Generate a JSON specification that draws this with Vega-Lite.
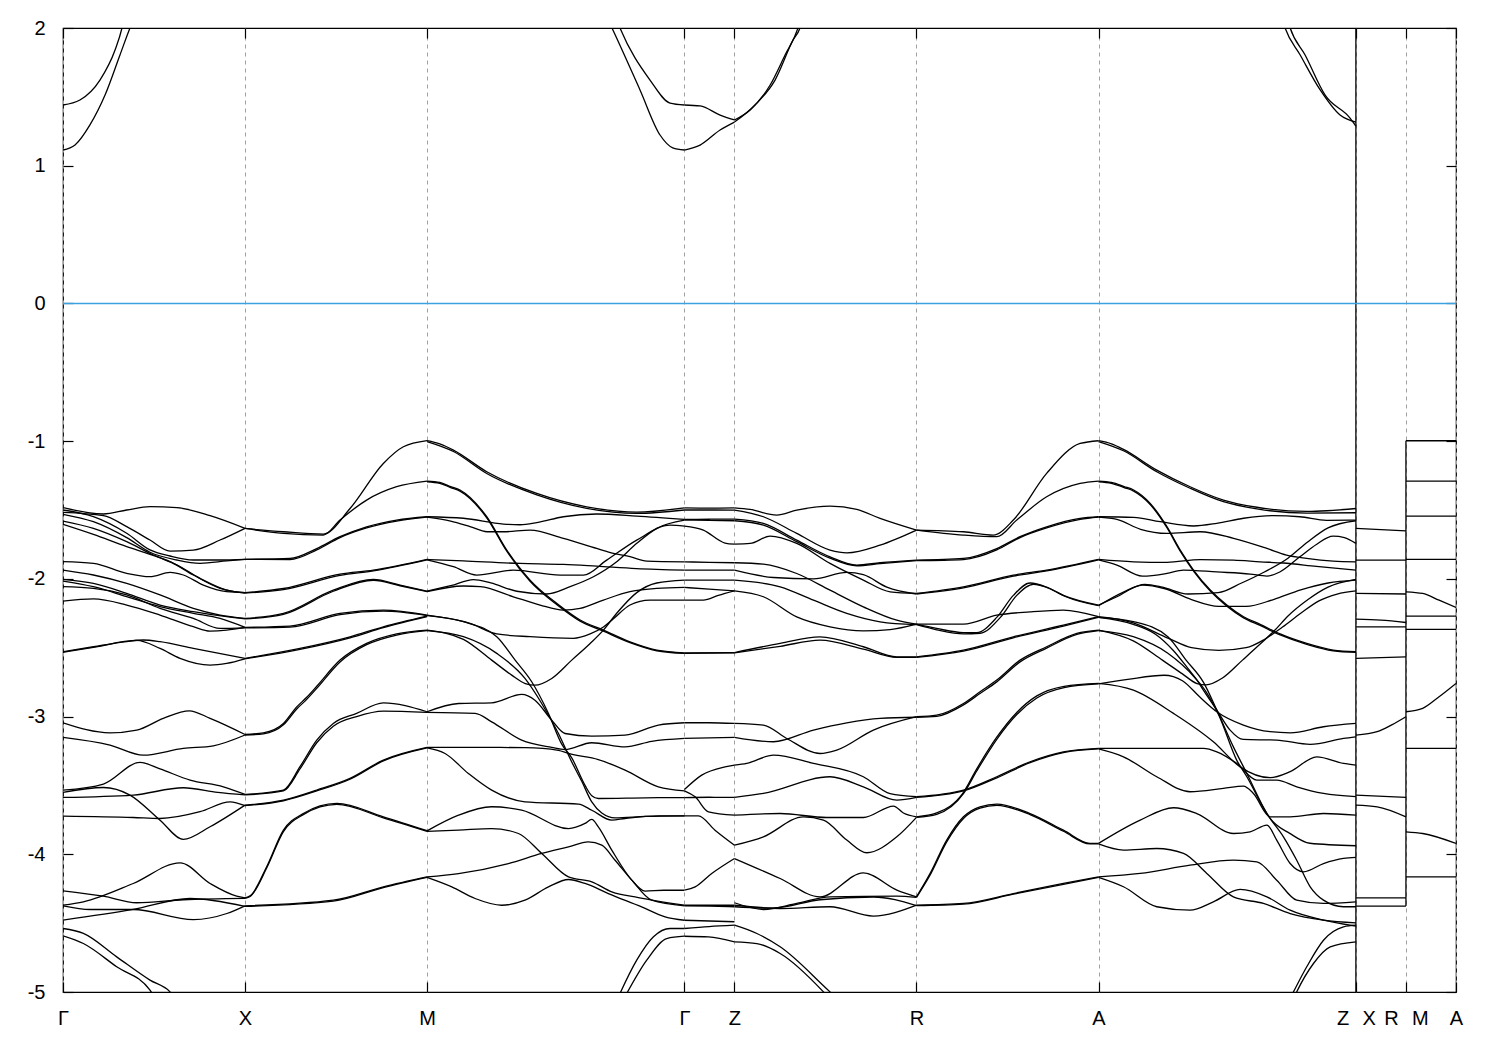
{
"$schema":"https://vega.github.io/schema/vega-lite/v6.json",
"width":1393,"height":964,
"autosize":{"type":"none"},
"padding":{"left":63,"top":28,"right":44,"bottom":58},
"background":"white",
"config":{"view":{"stroke":"black","strokeWidth":1.2}},
"resolve":{"axis":{"x":"independent","y":"independent"}},
"datasets":{
"jumps":[{"k":7.103,"lo":-5,"hi":2},{"k":7.378,"lo":-4.376,"hi":-0.997}],
"bands":[
{"s":"g1","k":0,"e":-1.483},{"s":"g1","k":0.222,"e":-1.529},{"s":"g1","k":0.35,"e":-1.5},{"s":"g1","k":0.478,"e":-1.476},{"s":"g1","k":0.625,"e":-1.483},{"s":"g1","k":0.808,"e":-1.541},{"s":"g1","k":1,"e":-1.633},
{"s":"g2","k":0,"e":-1.517},{"s":"g2","k":0.222,"e":-1.541},{"s":"g2","k":0.35,"e":-1.621},{"s":"g2","k":0.478,"e":-1.718},{"s":"g2","k":0.588,"e":-1.798},{"s":"g2","k":0.716,"e":-1.791},{"s":"g2","k":0.863,"e":-1.718},{"s":"g2","k":1,"e":-1.633},
{"s":"g3","k":0,"e":-1.5},{"s":"g3","k":0.167,"e":-1.548},{"s":"g3","k":0.35,"e":-1.669},{"s":"g3","k":0.478,"e":-1.79},{"s":"g3","k":0.588,"e":-1.834},{"s":"g3","k":0.716,"e":-1.863},{"s":"g3","k":0.863,"e":-1.863},{"s":"g3","k":1,"e":-1.858},
{"s":"g4","k":0,"e":-1.531},{"s":"g4","k":0.167,"e":-1.585},{"s":"g4","k":0.35,"e":-1.701},{"s":"g4","k":0.478,"e":-1.807},{"s":"g4","k":0.625,"e":-1.863},{"s":"g4","k":0.753,"e":-1.887},{"s":"g4","k":0.899,"e":-1.87},{"s":"g4","k":1,"e":-1.858},
{"s":"g5","k":0,"e":-1.58},{"s":"g5","k":0.167,"e":-1.633},{"s":"g5","k":0.35,"e":-1.73},{"s":"g5","k":0.496,"e":-1.827},{"s":"g5","k":0.625,"e":-1.899},{"s":"g5","k":0.753,"e":-1.996},{"s":"g5","k":0.899,"e":-2.081},{"s":"g5","k":1,"e":-2.1},
{"s":"g6","k":0,"e":-1.604},{"s":"g6","k":0.167,"e":-1.677},{"s":"g6","k":0.35,"e":-1.766},{"s":"g6","k":0.478,"e":-1.822},{"s":"g6","k":0.588,"e":-1.875},{"s":"g6","k":0.716,"e":-1.972},{"s":"g6","k":0.863,"e":-2.069},{"s":"g6","k":1,"e":-2.104},
{"s":"g7","k":0,"e":-1.875},{"s":"g7","k":0.167,"e":-1.887},{"s":"g7","k":0.35,"e":-1.96},{"s":"g7","k":0.478,"e":-1.984},{"s":"g7","k":0.588,"e":-1.953},{"s":"g7","k":0.661,"e":-1.972},{"s":"g7","k":0.771,"e":-2.045},{"s":"g7","k":0.899,"e":-2.093},{"s":"g7","k":1,"e":-2.1},
{"s":"g8","k":0,"e":-1.936},{"s":"g8","k":0.167,"e":-1.972},{"s":"g8","k":0.35,"e":-2.033},{"s":"g8","k":0.533,"e":-2.117},{"s":"g8","k":0.716,"e":-2.214},{"s":"g8","k":0.863,"e":-2.263},{"s":"g8","k":1,"e":-2.287},
{"s":"g9","k":0,"e":-2.004},{"s":"g9","k":0.167,"e":-2.033},{"s":"g9","k":0.35,"e":-2.105},{"s":"g9","k":0.533,"e":-2.19},{"s":"g9","k":0.716,"e":-2.238},{"s":"g9","k":0.899,"e":-2.275},{"s":"g9","k":1,"e":-2.291},
{"s":"g10","k":0,"e":-2.016},{"s":"g10","k":0.167,"e":-2.057},{"s":"g10","k":0.35,"e":-2.129},{"s":"g10","k":0.533,"e":-2.202},{"s":"g10","k":0.716,"e":-2.25},{"s":"g10","k":0.863,"e":-2.287},{"s":"g10","k":1,"e":-2.352},
{"s":"g11","k":0,"e":-2.057},{"s":"g11","k":0.167,"e":-2.069},{"s":"g11","k":0.35,"e":-2.117},{"s":"g11","k":0.533,"e":-2.214},{"s":"g11","k":0.716,"e":-2.287},{"s":"g11","k":0.863,"e":-2.36},{"s":"g11","k":1,"e":-2.356},
{"s":"g12","k":0,"e":-2.161},{"s":"g12","k":0.167,"e":-2.146},{"s":"g12","k":0.35,"e":-2.19},{"s":"g12","k":0.533,"e":-2.263},{"s":"g12","k":0.716,"e":-2.347},{"s":"g12","k":0.808,"e":-2.379},{"s":"g12","k":0.899,"e":-2.372},{"s":"g12","k":1,"e":-2.352},
{"s":"g13","k":0,"e":-2.529},{"s":"g13","k":0.167,"e":-2.493},{"s":"g13","k":0.35,"e":-2.456},{"s":"g13","k":0.441,"e":-2.444},{"s":"g13","k":0.533,"e":-2.456},{"s":"g13","k":0.716,"e":-2.505},{"s":"g13","k":1,"e":-2.577},
{"s":"g14","k":0,"e":-2.533},{"s":"g14","k":0.167,"e":-2.497},{"s":"g14","k":0.405,"e":-2.447},{"s":"g14","k":0.533,"e":-2.505},{"s":"g14","k":0.643,"e":-2.577},{"s":"g14","k":0.808,"e":-2.626},{"s":"g14","k":0.899,"e":-2.614},{"s":"g14","k":1,"e":-2.581},
{"s":"h1","k":0,"e":-3.045},{"s":"h1","k":0.258,"e":-3.118},{"s":"h1","k":0.405,"e":-3.098},{"s":"h1","k":0.551,"e":-3.013},{"s":"h1","k":0.694,"e":-2.958},{"s":"h1","k":0.808,"e":-3.013},{"s":"h1","k":1,"e":-3.13},
{"s":"h2","k":0,"e":-3.151},{"s":"h2","k":0.258,"e":-3.207},{"s":"h2","k":0.441,"e":-3.28},{"s":"h2","k":0.661,"e":-3.231},{"s":"h2","k":0.826,"e":-3.212},{"s":"h2","k":1,"e":-3.134},
{"s":"h3","k":0,"e":-3.534},{"s":"h3","k":0.222,"e":-3.49},{"s":"h3","k":0.423,"e":-3.333},{"s":"h3","k":0.533,"e":-3.38},{"s":"h3","k":0.698,"e":-3.461},{"s":"h3","k":0.881,"e":-3.51},{"s":"h3","k":1,"e":-3.565},
{"s":"h4","k":0,"e":-3.551},{"s":"h4","k":0.222,"e":-3.515},{"s":"h4","k":0.368,"e":-3.57},{"s":"h4","k":0.533,"e":-3.752},{"s":"h4","k":0.661,"e":-3.892},{"s":"h4","k":0.808,"e":-3.8},{"s":"h4","k":1,"e":-3.643},
{"s":"h5","k":0,"e":-3.587},{"s":"h5","k":0.386,"e":-3.57},{"s":"h5","k":0.661,"e":-3.517},{"s":"h5","k":0.85,"e":-3.55},{"s":"h5","k":1,"e":-3.569},
{"s":"h6","k":0,"e":-3.723},{"s":"h6","k":0.386,"e":-3.733},{"s":"h6","k":0.533,"e":-3.74},{"s":"h6","k":0.753,"e":-3.691},{"s":"h6","k":0.918,"e":-3.619},{"s":"h6","k":1,"e":-3.647},
{"s":"h7","k":0,"e":-4.369},{"s":"h7","k":0.112,"e":-4.345},{"s":"h7","k":0.386,"e":-4.212},{"s":"h7","k":0.643,"e":-4.062},{"s":"h7","k":0.808,"e":-4.212},{"s":"h7","k":0.954,"e":-4.304},{"s":"h7","k":1,"e":-4.316},
{"s":"h8","k":0,"e":-4.265},{"s":"h8","k":0.222,"e":-4.304},{"s":"h8","k":0.405,"e":-4.352},{"s":"h8","k":0.661,"e":-4.33},{"s":"h8","k":1,"e":-4.32},
{"s":"h9","k":0,"e":-4.374},{"s":"h9","k":0.15,"e":-4.401},{"s":"h9","k":0.386,"e":-4.401},{"s":"h9","k":0.716,"e":-4.474},{"s":"h9","k":0.9,"e":-4.43},{"s":"h9","k":1,"e":-4.374},
{"s":"h10","k":0,"e":-4.478},{"s":"h10","k":0.386,"e":-4.4},{"s":"h10","k":0.698,"e":-4.321},{"s":"h10","k":1,"e":-4.378},
{"s":"h11","k":0,"e":-4.539},{"s":"h11","k":0.112,"e":-4.575},{"s":"h11","k":0.295,"e":-4.745},{"s":"h11","k":0.478,"e":-4.914},{"s":"h11","k":0.588,"e":-4.999},{"s":"h11","k":0.62,"e":-5.05},
{"s":"h12","k":0,"e":-4.592},{"s":"h12","k":0.112,"e":-4.648},{"s":"h12","k":0.295,"e":-4.817},{"s":"h12","k":0.478,"e":-4.987},{"s":"h12","k":0.5,"e":-5.03},
{"s":"m1","k":1,"e":-1.634},{"s":"m1","k":1.211,"e":-1.658},{"s":"m1","k":1.43,"e":-1.675},{"s":"m1","k":1.577,"e":-1.489},{"s":"m1","k":1.76,"e":-1.162},{"s":"m1","k":1.87,"e":-1.041},{"s":"m1","k":2,"e":-0.997},
{"s":"m2","k":1,"e":-1.634},{"s":"m2","k":1.211,"e":-1.67},{"s":"m2","k":1.43,"e":-1.682},{"s":"m2","k":1.522,"e":-1.573},{"s":"m2","k":1.668,"e":-1.428},{"s":"m2","k":1.833,"e":-1.331},{"s":"m2","k":2,"e":-1.29},
{"s":"m3","k":1,"e":-1.858},{"s":"m3","k":1.247,"e":-1.852},{"s":"m3","k":1.394,"e":-1.78},{"s":"m3","k":1.522,"e":-1.694},{"s":"m3","k":1.668,"e":-1.622},{"s":"m3","k":1.833,"e":-1.573},{"s":"m3","k":2,"e":-1.549},
{"s":"m4","k":1,"e":-1.858},{"s":"m4","k":1.247,"e":-1.86},{"s":"m4","k":1.394,"e":-1.79},{"s":"m4","k":1.522,"e":-1.7},{"s":"m4","k":1.668,"e":-1.63},{"s":"m4","k":1.833,"e":-1.58},{"s":"m4","k":2,"e":-1.552},
{"s":"m5","k":1,"e":-2.1},{"s":"m5","k":1.211,"e":-2.07},{"s":"m5","k":1.522,"e":-1.966},{"s":"m5","k":1.705,"e":-1.937},{"s":"m5","k":2,"e":-1.859},
{"s":"m6","k":1,"e":-2.104},{"s":"m6","k":1.211,"e":-2.078},{"s":"m6","k":1.522,"e":-1.975},{"s":"m6","k":1.705,"e":-1.942},{"s":"m6","k":2,"e":-1.862},
{"s":"m7","k":1,"e":-2.287},{"s":"m7","k":1.211,"e":-2.251},{"s":"m7","k":1.485,"e":-2.082},{"s":"m7","k":1.705,"e":-2.004},{"s":"m7","k":1.852,"e":-2.045},{"s":"m7","k":2,"e":-2.089},
{"s":"m8","k":1,"e":-2.291},{"s":"m8","k":1.211,"e":-2.258},{"s":"m8","k":1.485,"e":-2.09},{"s":"m8","k":1.705,"e":-2.01},{"s":"m8","k":1.852,"e":-2.05},{"s":"m8","k":2,"e":-2.093},
{"s":"m9","k":1,"e":-2.352},{"s":"m9","k":1.247,"e":-2.343},{"s":"m9","k":1.522,"e":-2.251},{"s":"m9","k":1.76,"e":-2.227},{"s":"m9","k":2,"e":-2.263},
{"s":"m10","k":1,"e":-2.356},{"s":"m10","k":1.247,"e":-2.35},{"s":"m10","k":1.522,"e":-2.26},{"s":"m10","k":1.76,"e":-2.235},{"s":"m10","k":2,"e":-2.267},
{"s":"m11","k":1,"e":-2.577},{"s":"m11","k":1.302,"e":-2.505},{"s":"m11","k":1.577,"e":-2.421},{"s":"m11","k":1.76,"e":-2.348},{"s":"m11","k":2,"e":-2.271},
{"s":"m12","k":1,"e":-2.581},{"s":"m12","k":1.302,"e":-2.512},{"s":"m12","k":1.577,"e":-2.428},{"s":"m12","k":1.76,"e":-2.355},{"s":"m12","k":2,"e":-2.275},
{"s":"m13","k":1,"e":-3.13},{"s":"m13","k":1.101,"e":-3.118},{"s":"m13","k":1.211,"e":-3.05},{"s":"m13","k":1.284,"e":-2.93},{"s":"m13","k":1.339,"e":-2.86},{"s":"m13","k":1.394,"e":-2.78},{"s":"m13","k":1.522,"e":-2.59},{"s":"m13","k":1.668,"e":-2.469},{"s":"m13","k":1.833,"e":-2.4},{"s":"m13","k":2,"e":-2.372},
{"s":"m14","k":1,"e":-3.134},{"s":"m14","k":1.101,"e":-3.125},{"s":"m14","k":1.211,"e":-3.06},{"s":"m14","k":1.284,"e":-2.945},{"s":"m14","k":1.339,"e":-2.875},{"s":"m14","k":1.394,"e":-2.795},{"s":"m14","k":1.522,"e":-2.603},{"s":"m14","k":1.668,"e":-2.478},{"s":"m14","k":1.833,"e":-2.408},{"s":"m14","k":2,"e":-2.376},
{"s":"m15","k":1,"e":-3.565},{"s":"m15","k":1.211,"e":-3.534},{"s":"m15","k":1.302,"e":-3.364},{"s":"m15","k":1.394,"e":-3.171},{"s":"m15","k":1.485,"e":-3.05},{"s":"m15","k":1.613,"e":-2.977},{"s":"m15","k":1.76,"e":-2.9},{"s":"m15","k":2,"e":-2.965},
{"s":"m16","k":1,"e":-3.569},{"s":"m16","k":1.211,"e":-3.54},{"s":"m16","k":1.302,"e":-3.38},{"s":"m16","k":1.394,"e":-3.19},{"s":"m16","k":1.485,"e":-3.07},{"s":"m16","k":1.613,"e":-3.0},{"s":"m16","k":1.76,"e":-2.96},{"s":"m16","k":2,"e":-2.97},
{"s":"m17","k":1,"e":-3.643},{"s":"m17","k":1.211,"e":-3.607},{"s":"m17","k":1.394,"e":-3.534},{"s":"m17","k":1.577,"e":-3.449},{"s":"m17","k":1.76,"e":-3.316},{"s":"m17","k":2,"e":-3.224},
{"s":"m18","k":1,"e":-3.647},{"s":"m18","k":1.211,"e":-3.612},{"s":"m18","k":1.394,"e":-3.54},{"s":"m18","k":1.577,"e":-3.455},{"s":"m18","k":1.76,"e":-3.322},{"s":"m18","k":2,"e":-3.228},
{"s":"m19","k":1,"e":-4.316},{"s":"m19","k":1.03,"e":-4.3},{"s":"m19","k":1.119,"e":-4.09},{"s":"m19","k":1.211,"e":-3.825},{"s":"m19","k":1.32,"e":-3.704},{"s":"m19","k":1.504,"e":-3.631},{"s":"m19","k":1.76,"e":-3.728},{"s":"m19","k":2,"e":-3.829},
{"s":"m20","k":1,"e":-4.32},{"s":"m20","k":1.03,"e":-4.305},{"s":"m20","k":1.119,"e":-4.1},{"s":"m20","k":1.211,"e":-3.835},{"s":"m20","k":1.32,"e":-3.712},{"s":"m20","k":1.504,"e":-3.638},{"s":"m20","k":1.76,"e":-3.735},{"s":"m20","k":2,"e":-3.833},
{"s":"m21","k":1,"e":-4.374},{"s":"m21","k":1.485,"e":-4.333},{"s":"m21","k":1.76,"e":-4.236},{"s":"m21","k":2,"e":-4.164},
{"s":"m22","k":1,"e":-4.378},{"s":"m22","k":1.485,"e":-4.34},{"s":"m22","k":1.76,"e":-4.242},{"s":"m22","k":2,"e":-4.168},
{"s":"n1","k":2,"e":-0.997},{"s":"n1","k":2.07,"e":-1.02},{"s":"n1","k":2.145,"e":-1.065},{"s":"n1","k":2.328,"e":-1.222},{"s":"n1","k":2.603,"e":-1.38},{"s":"n1","k":2.877,"e":-1.477},{"s":"n1","k":3.152,"e":-1.515},{"s":"n1","k":3.414,"e":-1.484},
{"s":"n2","k":2,"e":-1.003},{"s":"n2","k":2.145,"e":-1.075},{"s":"n2","k":2.328,"e":-1.235},{"s":"n2","k":2.603,"e":-1.39},{"s":"n2","k":2.877,"e":-1.488},{"s":"n2","k":3.152,"e":-1.525},{"s":"n2","k":3.414,"e":-1.5},
{"s":"n3","k":2,"e":-1.29},{"s":"n3","k":2.07,"e":-1.3},{"s":"n3","k":2.13,"e":-1.33},{"s":"n3","k":2.181,"e":-1.355},{"s":"n3","k":2.328,"e":-1.549},{"s":"n3","k":2.438,"e":-1.791},{"s":"n3","k":2.566,"e":-2.009},{"s":"n3","k":2.712,"e":-2.178},{"s":"n3","k":2.841,"e":-2.299},{"s":"n3","k":2.969,"e":-2.372},{"s":"n3","k":3.115,"e":-2.457},{"s":"n3","k":3.262,"e":-2.517},{"s":"n3","k":3.414,"e":-2.537},
{"s":"n4","k":2,"e":-1.295},{"s":"n4","k":2.07,"e":-1.306},{"s":"n4","k":2.13,"e":-1.337},{"s":"n4","k":2.181,"e":-1.363},{"s":"n4","k":2.328,"e":-1.557},{"s":"n4","k":2.438,"e":-1.799},{"s":"n4","k":2.566,"e":-2.017},{"s":"n4","k":2.712,"e":-2.186},{"s":"n4","k":2.841,"e":-2.307},{"s":"n4","k":2.969,"e":-2.38},{"s":"n4","k":3.115,"e":-2.463},{"s":"n4","k":3.262,"e":-2.522},{"s":"n4","k":3.414,"e":-2.541},
{"s":"n5","k":2,"e":-1.549},{"s":"n5","k":2.2,"e":-1.56},{"s":"n5","k":2.42,"e":-1.602},{"s":"n5","k":2.511,"e":-1.607},{"s":"n5","k":2.603,"e":-1.592},{"s":"n5","k":2.749,"e":-1.549},{"s":"n5","k":2.932,"e":-1.529},{"s":"n5","k":3.152,"e":-1.544},{"s":"n5","k":3.414,"e":-1.568},
{"s":"n6","k":2,"e":-1.552},{"s":"n6","k":2.13,"e":-1.58},{"s":"n6","k":2.236,"e":-1.62},{"s":"n6","k":2.33,"e":-1.658},{"s":"n6","k":2.42,"e":-1.658},{"s":"n6","k":2.566,"e":-1.646},{"s":"n6","k":2.749,"e":-1.706},{"s":"n6","k":2.932,"e":-1.779},{"s":"n6","k":3.024,"e":-1.815},{"s":"n6","k":3.115,"e":-1.839},{"s":"n6","k":3.207,"e":-1.871},{"s":"n6","k":3.414,"e":-1.876},
{"s":"n7","k":2,"e":-1.859},{"s":"n7","k":2.2,"e":-1.87},{"s":"n7","k":2.511,"e":-1.888},{"s":"n7","k":2.75,"e":-1.895},{"s":"n7","k":2.932,"e":-1.908},{"s":"n7","k":3.15,"e":-1.925},{"s":"n7","k":3.414,"e":-1.936},
{"s":"n8","k":2,"e":-1.862},{"s":"n8","k":2.145,"e":-1.912},{"s":"n8","k":2.273,"e":-1.973},{"s":"n8","k":2.474,"e":-1.937},{"s":"n8","k":2.731,"e":-1.973},{"s":"n8","k":2.859,"e":-1.973},{"s":"n8","k":2.987,"e":-1.864},{"s":"n8","k":3.152,"e":-1.719},{"s":"n8","k":3.335,"e":-1.61},{"s":"n8","k":3.414,"e":-1.617},
{"s":"n9","k":2,"e":-2.089},{"s":"n9","k":2.13,"e":-2.05},{"s":"n9","k":2.255,"e":-2.005},{"s":"n9","k":2.35,"e":-2.03},{"s":"n9","k":2.493,"e":-2.09},{"s":"n9","k":2.658,"e":-2.11},{"s":"n9","k":2.786,"e":-2.057},{"s":"n9","k":2.914,"e":-1.985},{"s":"n9","k":3.042,"e":-1.876},{"s":"n9","k":3.152,"e":-1.742},{"s":"n9","k":3.262,"e":-1.633},{"s":"n9","k":3.414,"e":-1.573},
{"s":"n10","k":2,"e":-2.093},{"s":"n10","k":2.2,"e":-2.052},{"s":"n10","k":2.292,"e":-2.057},{"s":"n10","k":2.474,"e":-2.13},{"s":"n10","k":2.621,"e":-2.19},{"s":"n10","k":2.749,"e":-2.227},{"s":"n10","k":2.841,"e":-2.215},{"s":"n10","k":2.969,"e":-2.154},{"s":"n10","k":3.115,"e":-2.093},{"s":"n10","k":3.262,"e":-2.069},{"s":"n10","k":3.414,"e":-2.062},
{"s":"n11","k":2,"e":-2.263},{"s":"n11","k":2.236,"e":-2.323},{"s":"n11","k":2.383,"e":-2.4},{"s":"n11","k":2.566,"e":-2.42},{"s":"n11","k":2.804,"e":-2.432},{"s":"n11","k":2.896,"e":-2.4},{"s":"n11","k":2.969,"e":-2.35},{"s":"n11","k":3.024,"e":-2.29},{"s":"n11","k":3.115,"e":-2.19},{"s":"n11","k":3.225,"e":-2.154},{"s":"n11","k":3.414,"e":-2.154},
{"s":"n12","k":2,"e":-2.372},{"s":"n12","k":2.2,"e":-2.44},{"s":"n12","k":2.355,"e":-2.59},{"s":"n12","k":2.465,"e":-2.699},{"s":"n12","k":2.54,"e":-2.76},{"s":"n12","k":2.593,"e":-2.772},{"s":"n12","k":2.685,"e":-2.723},{"s":"n12","k":2.795,"e":-2.59},{"s":"n12","k":2.896,"e":-2.469},{"s":"n12","k":2.969,"e":-2.372},{"s":"n12","k":3.042,"e":-2.25},{"s":"n12","k":3.152,"e":-2.1},{"s":"n12","k":3.262,"e":-2.03},{"s":"n12","k":3.414,"e":-2.009},
{"s":"n13","k":2,"e":-2.267},{"s":"n13","k":2.2,"e":-2.311},{"s":"n13","k":2.383,"e":-2.42},{"s":"n13","k":2.484,"e":-2.59},{"s":"n13","k":2.575,"e":-2.747},{"s":"n13","k":2.667,"e":-2.977},{"s":"n13","k":2.74,"e":-3.2},{"s":"n13","k":2.795,"e":-3.3},{"s":"n13","k":2.868,"e":-3.5},{"s":"n13","k":2.905,"e":-3.575},{"s":"n13","k":2.941,"e":-3.595},{"s":"n13","k":3.2,"e":-3.59},{"s":"n13","k":3.414,"e":-3.588},
{"s":"n14","k":2,"e":-2.376},{"s":"n14","k":2.2,"e":-2.42},{"s":"n14","k":2.383,"e":-2.541},{"s":"n14","k":2.538,"e":-2.723},{"s":"n14","k":2.63,"e":-2.905},{"s":"n14","k":2.722,"e":-3.123},{"s":"n14","k":2.795,"e":-3.33},{"s":"n14","k":2.85,"e":-3.47},{"s":"n14","k":2.905,"e":-3.62},{"s":"n14","k":2.96,"e":-3.7},{"s":"n14","k":3.033,"e":-3.735},{"s":"n14","k":3.2,"e":-3.725},{"s":"n14","k":3.414,"e":-3.721},
{"s":"n15","k":2,"e":-2.965},{"s":"n15","k":2.173,"e":-2.905},{"s":"n15","k":2.355,"e":-2.9},{"s":"n15","k":2.52,"e":-2.839},{"s":"n15","k":2.593,"e":-2.881},{"s":"n15","k":2.685,"e":-3.026},{"s":"n15","k":2.758,"e":-3.123},{"s":"n15","k":2.905,"e":-3.142},{"s":"n15","k":3.088,"e":-3.135},{"s":"n15","k":3.271,"e":-3.062},{"s":"n15","k":3.414,"e":-3.045},
{"s":"n16","k":2,"e":-2.97},{"s":"n16","k":2.264,"e":-2.977},{"s":"n16","k":2.355,"e":-3.038},{"s":"n16","k":2.52,"e":-3.171},{"s":"n16","k":2.685,"e":-3.224},{"s":"n16","k":2.758,"e":-3.24},{"s":"n16","k":2.905,"e":-3.19},{"s":"n16","k":3.088,"e":-3.22},{"s":"n16","k":3.234,"e":-3.18},{"s":"n16","k":3.414,"e":-3.159},
{"s":"n17","k":2,"e":-3.224},{"s":"n17","k":2.35,"e":-3.224},{"s":"n17","k":2.538,"e":-3.226},{"s":"n17","k":2.722,"e":-3.245},{"s":"n17","k":2.777,"e":-3.268},{"s":"n17","k":2.941,"e":-3.312},{"s":"n17","k":3.088,"e":-3.389},{"s":"n17","k":3.271,"e":-3.51},{"s":"n17","k":3.414,"e":-3.539},
{"s":"n18","k":2,"e":-3.228},{"s":"n18","k":2.099,"e":-3.268},{"s":"n18","k":2.227,"e":-3.413},{"s":"n18","k":2.355,"e":-3.534},{"s":"n18","k":2.538,"e":-3.619},{"s":"n18","k":2.832,"e":-3.636},{"s":"n18","k":2.905,"e":-3.68},{"s":"n18","k":3.015,"e":-3.752},{"s":"n18","k":3.088,"e":-3.74},{"s":"n18","k":3.271,"e":-3.721},{"s":"n18","k":3.414,"e":-3.721},
{"s":"n19","k":2,"e":-3.83},{"s":"n19","k":2.173,"e":-3.716},{"s":"n19","k":2.355,"e":-3.655},{"s":"n19","k":2.52,"e":-3.68},{"s":"n19","k":2.777,"e":-3.813},{"s":"n19","k":2.868,"e":-3.776},{"s":"n19","k":2.905,"e":-3.747},{"s":"n19","k":2.941,"e":-3.801},{"s":"n19","k":3.015,"e":-3.97},{"s":"n19","k":3.125,"e":-4.188},{"s":"n19","k":3.198,"e":-4.268},{"s":"n19","k":3.3,"e":-4.261},{"s":"n19","k":3.414,"e":-4.261},
{"s":"n20","k":2,"e":-3.834},{"s":"n20","k":2.173,"e":-3.825},{"s":"n20","k":2.355,"e":-3.813},{"s":"n20","k":2.502,"e":-3.849},{"s":"n20","k":2.63,"e":-3.994},{"s":"n20","k":2.777,"e":-4.164},{"s":"n20","k":2.905,"e":-4.2},{"s":"n20","k":3.015,"e":-4.273},{"s":"n20","k":3.161,"e":-4.314},{"s":"n20","k":3.414,"e":-4.37},
{"s":"n21","k":2,"e":-4.164},{"s":"n21","k":2.173,"e":-4.14},{"s":"n21","k":2.447,"e":-4.067},{"s":"n21","k":2.63,"e":-3.994},{"s":"n21","k":2.777,"e":-3.946},{"s":"n21","k":2.886,"e":-3.91},{"s":"n21","k":2.96,"e":-3.934},{"s":"n21","k":3.033,"e":-4.043},{"s":"n21","k":3.125,"e":-4.188},{"s":"n21","k":3.234,"e":-4.333},{"s":"n21","k":3.414,"e":-4.374},
{"s":"n22","k":2,"e":-4.168},{"s":"n22","k":2.136,"e":-4.237},{"s":"n22","k":2.264,"e":-4.321},{"s":"n22","k":2.41,"e":-4.37},{"s":"n22","k":2.538,"e":-4.333},{"s":"n22","k":2.667,"e":-4.237},{"s":"n22","k":2.777,"e":-4.183},{"s":"n22","k":2.868,"e":-4.212},{"s":"n22","k":2.996,"e":-4.285},{"s":"n22","k":3.179,"e":-4.382},{"s":"n22","k":3.308,"e":-4.454},{"s":"n22","k":3.414,"e":-4.479},
{"s":"n23","k":3.05,"e":-5.04},{"s":"n23","k":3.06,"e":-5.011},{"s":"n23","k":3.152,"e":-4.769},{"s":"n23","k":3.244,"e":-4.599},{"s":"n23","k":3.335,"e":-4.539},{"s":"n23","k":3.414,"e":-4.539},
{"s":"n24","k":3.085,"e":-5.04},{"s":"n24","k":3.097,"e":-5.011},{"s":"n24","k":3.207,"e":-4.769},{"s":"n24","k":3.317,"e":-4.612},{"s":"n24","k":3.414,"e":-4.595},
{"s":"q1","k":3.414,"e":-1.484},{"s":"q1","k":3.55,"e":-1.486},{"s":"q1","k":3.689,"e":-1.484},
{"s":"q2","k":3.414,"e":-1.5},{"s":"q2","k":3.55,"e":-1.5},{"s":"q2","k":3.689,"e":-1.501},
{"s":"q3","k":3.414,"e":-1.568},{"s":"q3","k":3.55,"e":-1.567},{"s":"q3","k":3.689,"e":-1.566},
{"s":"q4","k":3.414,"e":-1.573},{"s":"q4","k":3.55,"e":-1.576},{"s":"q4","k":3.689,"e":-1.578},
{"s":"q5","k":3.414,"e":-1.617},{"s":"q5","k":3.518,"e":-1.646},{"s":"q5","k":3.637,"e":-1.74},{"s":"q5","k":3.689,"e":-1.748},
{"s":"q6","k":3.414,"e":-1.876},{"s":"q6","k":3.55,"e":-1.88},{"s":"q6","k":3.689,"e":-1.883},
{"s":"q7","k":3.414,"e":-1.936},{"s":"q7","k":3.55,"e":-1.937},{"s":"q7","k":3.689,"e":-1.937},
{"s":"q8","k":3.414,"e":-2.009},{"s":"q8","k":3.55,"e":-2.009},{"s":"q8","k":3.689,"e":-2.009},
{"s":"q9","k":3.414,"e":-2.062},{"s":"q9","k":3.55,"e":-2.075},{"s":"q9","k":3.689,"e":-2.087},
{"s":"q10","k":3.414,"e":-2.154},{"s":"q10","k":3.518,"e":-2.154},{"s":"q10","k":3.6,"e":-2.12},{"s":"q10","k":3.689,"e":-2.087},
{"s":"q11","k":3.414,"e":-2.537},{"s":"q11","k":3.689,"e":-2.535},
{"s":"q12","k":3.414,"e":-2.541},{"s":"q12","k":3.689,"e":-2.538},
{"s":"q13","k":3.414,"e":-3.045},{"s":"q13","k":3.55,"e":-3.045},{"s":"q13","k":3.689,"e":-3.05},
{"s":"q14","k":3.414,"e":-3.159},{"s":"q14","k":3.55,"e":-3.155},{"s":"q14","k":3.689,"e":-3.151},
{"s":"q15","k":3.414,"e":-3.53},{"s":"q15","k":3.509,"e":-3.425},{"s":"q15","k":3.637,"e":-3.365},{"s":"q15","k":3.689,"e":-3.352},
{"s":"q16","k":3.414,"e":-3.539},{"s":"q16","k":3.473,"e":-3.583},{"s":"q16","k":3.546,"e":-3.692},{"s":"q16","k":3.689,"e":-3.716},
{"s":"q17","k":3.414,"e":-3.588},{"s":"q17","k":3.55,"e":-3.586},{"s":"q17","k":3.689,"e":-3.587},
{"s":"q18","k":3.414,"e":-3.721},{"s":"q18","k":3.491,"e":-3.721},{"s":"q18","k":3.582,"e":-3.825},{"s":"q18","k":3.689,"e":-3.934},
{"s":"q19","k":3.414,"e":-4.261},{"s":"q19","k":3.473,"e":-4.237},{"s":"q19","k":3.564,"e":-4.14},{"s":"q19","k":3.689,"e":-4.031},
{"s":"q20","k":3.414,"e":-4.37},{"s":"q20","k":3.689,"e":-4.37},
{"s":"q21","k":3.414,"e":-4.374},{"s":"q21","k":3.55,"e":-4.376},{"s":"q21","k":3.689,"e":-4.381},
{"s":"q22","k":3.414,"e":-4.479},{"s":"q22","k":3.689,"e":-4.49},
{"s":"q23","k":3.414,"e":-4.539},{"s":"q23","k":3.55,"e":-4.525},{"s":"q23","k":3.689,"e":-4.515},
{"s":"q24","k":3.414,"e":-4.595},{"s":"q24","k":3.546,"e":-4.6},{"s":"q24","k":3.689,"e":-4.636},
{"s":"t1","k":3.689,"e":-1.484},{"s":"t1","k":3.775,"e":-1.496},{"s":"t1","k":3.921,"e":-1.537},{"s":"t1","k":4.031,"e":-1.501},{"s":"t1","k":4.214,"e":-1.472},{"s":"t1","k":4.361,"e":-1.496},{"s":"t1","k":4.489,"e":-1.561},{"s":"t1","k":4.689,"e":-1.646},
{"s":"t2","k":3.689,"e":-1.501},{"s":"t2","k":3.848,"e":-1.549},{"s":"t2","k":4.031,"e":-1.67},{"s":"t2","k":4.214,"e":-1.791},{"s":"t2","k":4.306,"e":-1.811},{"s":"t2","k":4.489,"e":-1.755},{"s":"t2","k":4.689,"e":-1.646},
{"s":"t3","k":3.689,"e":-1.566},{"s":"t3","k":3.848,"e":-1.598},{"s":"t3","k":4.031,"e":-1.719},{"s":"t3","k":4.214,"e":-1.84},{"s":"t3","k":4.361,"e":-1.9},{"s":"t3","k":4.489,"e":-1.883},{"s":"t3","k":4.689,"e":-1.864},
{"s":"t4","k":3.689,"e":-1.578},{"s":"t4","k":3.848,"e":-1.61},{"s":"t4","k":4.031,"e":-1.73},{"s":"t4","k":4.214,"e":-1.85},{"s":"t4","k":4.361,"e":-1.905},{"s":"t4","k":4.489,"e":-1.89},{"s":"t4","k":4.689,"e":-1.868},
{"s":"t5","k":3.689,"e":-1.748},{"s":"t5","k":3.775,"e":-1.743},{"s":"t5","k":3.885,"e":-1.69},{"s":"t5","k":4.031,"e":-1.743},{"s":"t5","k":4.214,"e":-1.888},{"s":"t5","k":4.397,"e":-2.009},{"s":"t5","k":4.544,"e":-2.094},{"s":"t5","k":4.689,"e":-2.106},
{"s":"t6","k":3.689,"e":-1.883},{"s":"t6","k":3.848,"e":-1.893},{"s":"t6","k":4.031,"e":-1.961},{"s":"t6","k":4.214,"e":-2.082},{"s":"t6","k":4.397,"e":-2.203},{"s":"t6","k":4.581,"e":-2.3},{"s":"t6","k":4.689,"e":-2.329},
{"s":"t7","k":3.689,"e":-1.937},{"s":"t7","k":3.903,"e":-1.99},{"s":"t7","k":4.123,"e":-2.0},{"s":"t7","k":4.306,"e":-1.953},{"s":"t7","k":4.397,"e":-1.97},{"s":"t7","k":4.526,"e":-2.06},{"s":"t7","k":4.689,"e":-2.11},
{"s":"t8","k":3.689,"e":-2.009},{"s":"t8","k":3.94,"e":-2.058},{"s":"t8","k":4.123,"e":-2.155},{"s":"t8","k":4.306,"e":-2.251},{"s":"t8","k":4.489,"e":-2.312},{"s":"t8","k":4.689,"e":-2.333},
{"s":"t9","k":3.689,"e":-2.087},{"s":"t9","k":3.848,"e":-2.13},{"s":"t9","k":4.031,"e":-2.276},{"s":"t9","k":4.214,"e":-2.348},{"s":"t9","k":4.397,"e":-2.377},{"s":"t9","k":4.544,"e":-2.368},{"s":"t9","k":4.689,"e":-2.329},
{"s":"t10","k":3.689,"e":-2.535},{"s":"t10","k":3.94,"e":-2.469},{"s":"t10","k":4.159,"e":-2.421},{"s":"t10","k":4.397,"e":-2.493},{"s":"t10","k":4.581,"e":-2.566},{"s":"t10","k":4.689,"e":-2.566},
{"s":"t11","k":3.689,"e":-2.538},{"s":"t11","k":3.94,"e":-2.49},{"s":"t11","k":4.159,"e":-2.445},{"s":"t11","k":4.397,"e":-2.51},{"s":"t11","k":4.581,"e":-2.57},{"s":"t11","k":4.689,"e":-2.57},
{"s":"u1","k":3.689,"e":-3.05},{"s":"u1","k":3.848,"e":-3.062},{"s":"u1","k":3.976,"e":-3.159},{"s":"u1","k":4.159,"e":-3.268},{"s":"u1","k":4.251,"e":-3.243},{"s":"u1","k":4.452,"e":-3.098},{"s":"u1","k":4.689,"e":-3.001},
{"s":"u2","k":3.689,"e":-3.151},{"s":"u2","k":3.903,"e":-3.183},{"s":"u2","k":4.123,"e":-3.098},{"s":"u2","k":4.306,"e":-3.045},{"s":"u2","k":4.489,"e":-3.013},{"s":"u2","k":4.689,"e":-3.005},
{"s":"u3","k":3.689,"e":-3.352},{"s":"u3","k":3.757,"e":-3.34},{"s":"u3","k":3.903,"e":-3.28},{"s":"u3","k":4.123,"e":-3.34},{"s":"u3","k":4.397,"e":-3.437},{"s":"u3","k":4.544,"e":-3.56},{"s":"u3","k":4.689,"e":-3.582},
{"s":"u4","k":3.689,"e":-3.587},{"s":"u4","k":3.848,"e":-3.558},{"s":"u4","k":4.214,"e":-3.437},{"s":"u4","k":4.397,"e":-3.51},{"s":"u4","k":4.581,"e":-3.607},{"s":"u4","k":4.689,"e":-3.587},
{"s":"u5","k":3.689,"e":-3.716},{"s":"u5","k":3.94,"e":-3.704},{"s":"u5","k":4.196,"e":-3.733},{"s":"u5","k":4.397,"e":-3.733},{"s":"u5","k":4.563,"e":-3.65},{"s":"u5","k":4.617,"e":-3.7},{"s":"u5","k":4.689,"e":-3.728},
{"s":"u6","k":3.689,"e":-3.934},{"s":"u6","k":3.848,"e":-3.873},{"s":"u6","k":4.068,"e":-3.728},{"s":"u6","k":4.178,"e":-3.752},{"s":"u6","k":4.306,"e":-3.897},{"s":"u6","k":4.416,"e":-3.989},{"s":"u6","k":4.581,"e":-3.873},{"s":"u6","k":4.689,"e":-3.732},
{"s":"u7","k":3.689,"e":-4.031},{"s":"u7","k":3.94,"e":-4.176},{"s":"u7","k":4.159,"e":-4.309},{"s":"u7","k":4.397,"e":-4.135},{"s":"u7","k":4.581,"e":-4.26},{"s":"u7","k":4.689,"e":-4.309},
{"s":"u8","k":3.689,"e":-4.352},{"s":"u8","k":3.848,"e":-4.401},{"s":"u8","k":4.031,"e":-4.357},{"s":"u8","k":4.214,"e":-4.309},{"s":"u8","k":4.581,"e":-4.304},{"s":"u8","k":4.689,"e":-4.313},
{"s":"u9","k":3.689,"e":-4.381},{"s":"u9","k":3.94,"e":-4.394},{"s":"u9","k":4.214,"e":-4.381},{"s":"u9","k":4.452,"e":-4.449},{"s":"u9","k":4.689,"e":-4.369},
{"s":"u10","k":3.689,"e":-4.37},{"s":"u10","k":3.903,"e":-4.39},{"s":"u10","k":4.159,"e":-4.33},{"s":"u10","k":4.452,"e":-4.31},{"s":"u10","k":4.689,"e":-4.373},
{"s":"u11","k":3.689,"e":-4.515},{"s":"u11","k":3.812,"e":-4.575},{"s":"u11","k":3.94,"e":-4.672},{"s":"u11","k":4.214,"e":-4.999},{"s":"u11","k":4.24,"e":-5.03},
{"s":"u12","k":3.689,"e":-4.636},{"s":"u12","k":3.812,"e":-4.648},{"s":"u12","k":3.94,"e":-4.72},{"s":"u12","k":4.178,"e":-4.999},{"s":"u12","k":4.2,"e":-5.03},
{"s":"v1","k":4.689,"e":-1.646},{"s":"v1","k":4.947,"e":-1.658},{"s":"v1","k":5.111,"e":-1.682},{"s":"v1","k":5.221,"e":-1.573},{"s":"v1","k":5.404,"e":-1.234},{"s":"v1","k":5.588,"e":-1.017},{"s":"v1","k":5.689,"e":-0.997},
{"s":"v2","k":4.689,"e":-1.646},{"s":"v2","k":4.947,"e":-1.682},{"s":"v2","k":5.13,"e":-1.694},{"s":"v2","k":5.24,"e":-1.573},{"s":"v2","k":5.404,"e":-1.404},{"s":"v2","k":5.588,"e":-1.307},{"s":"v2","k":5.689,"e":-1.29},
{"s":"v3","k":4.689,"e":-1.864},{"s":"v3","k":4.947,"e":-1.852},{"s":"v3","k":5.13,"e":-1.78},{"s":"v3","k":5.258,"e":-1.694},{"s":"v3","k":5.404,"e":-1.622},{"s":"v3","k":5.588,"e":-1.561},{"s":"v3","k":5.689,"e":-1.549},
{"s":"v4","k":4.689,"e":-1.868},{"s":"v4","k":4.947,"e":-1.86},{"s":"v4","k":5.13,"e":-1.79},{"s":"v4","k":5.258,"e":-1.7},{"s":"v4","k":5.404,"e":-1.63},{"s":"v4","k":5.588,"e":-1.568},{"s":"v4","k":5.689,"e":-1.552},
{"s":"v5","k":4.689,"e":-2.106},{"s":"v5","k":4.947,"e":-2.058},{"s":"v5","k":5.221,"e":-1.973},{"s":"v5","k":5.404,"e":-1.937},{"s":"v5","k":5.689,"e":-1.859},
{"s":"v6","k":4.689,"e":-2.11},{"s":"v6","k":4.947,"e":-2.065},{"s":"v6","k":5.221,"e":-1.98},{"s":"v6","k":5.404,"e":-1.942},{"s":"v6","k":5.689,"e":-1.862},
{"s":"v7","k":4.689,"e":-2.329},{"s":"v7","k":4.8,"e":-2.36},{"s":"v7","k":4.947,"e":-2.39},{"s":"v7","k":5.02,"e":-2.39},{"s":"v7","k":5.13,"e":-2.28},{"s":"v7","k":5.221,"e":-2.12},{"s":"v7","k":5.313,"e":-2.03},{"s":"v7","k":5.404,"e":-2.06},{"s":"v7","k":5.496,"e":-2.12},{"s":"v7","k":5.689,"e":-2.191},
{"s":"v8","k":4.689,"e":-2.333},{"s":"v8","k":4.8,"e":-2.37},{"s":"v8","k":4.947,"e":-2.4},{"s":"v8","k":5.038,"e":-2.395},{"s":"v8","k":5.15,"e":-2.28},{"s":"v8","k":5.24,"e":-2.12},{"s":"v8","k":5.33,"e":-2.04},{"s":"v8","k":5.42,"e":-2.07},{"s":"v8","k":5.51,"e":-2.13},{"s":"v8","k":5.689,"e":-2.195},
{"s":"v9","k":4.689,"e":-2.329},{"s":"v9","k":4.947,"e":-2.329},{"s":"v9","k":5.13,"e":-2.264},{"s":"v9","k":5.313,"e":-2.24},{"s":"v9","k":5.496,"e":-2.227},{"s":"v9","k":5.689,"e":-2.275},
{"s":"v10","k":4.689,"e":-2.566},{"s":"v10","k":4.947,"e":-2.518},{"s":"v10","k":5.221,"e":-2.421},{"s":"v10","k":5.496,"e":-2.336},{"s":"v10","k":5.689,"e":-2.275},
{"s":"v11","k":4.689,"e":-2.57},{"s":"v11","k":4.947,"e":-2.525},{"s":"v11","k":5.221,"e":-2.428},{"s":"v11","k":5.496,"e":-2.343},{"s":"v11","k":5.689,"e":-2.279},
{"s":"w1","k":4.689,"e":-3.001},{"s":"w1","k":4.8,"e":-2.99},{"s":"w1","k":4.947,"e":-2.905},{"s":"w1","k":5.038,"e":-2.82},{"s":"w1","k":5.13,"e":-2.735},{"s":"w1","k":5.258,"e":-2.59},{"s":"w1","k":5.404,"e":-2.493},{"s":"w1","k":5.57,"e":-2.396},{"s":"w1","k":5.689,"e":-2.372},
{"s":"w2","k":4.689,"e":-3.005},{"s":"w2","k":4.8,"e":-2.998},{"s":"w2","k":4.947,"e":-2.915},{"s":"w2","k":5.038,"e":-2.832},{"s":"w2","k":5.13,"e":-2.748},{"s":"w2","k":5.258,"e":-2.603},{"s":"w2","k":5.404,"e":-2.503},{"s":"w2","k":5.57,"e":-2.404},{"s":"w2","k":5.689,"e":-2.376},
{"s":"w3","k":4.689,"e":-3.728},{"s":"w3","k":4.8,"e":-3.7},{"s":"w3","k":4.947,"e":-3.55},{"s":"w3","k":5.02,"e":-3.38},{"s":"w3","k":5.13,"e":-3.15},{"s":"w3","k":5.24,"e":-2.97},{"s":"w3","k":5.35,"e":-2.85},{"s":"w3","k":5.5,"e":-2.78},{"s":"w3","k":5.689,"e":-2.759},
{"s":"w4","k":4.689,"e":-3.732},{"s":"w4","k":4.8,"e":-3.71},{"s":"w4","k":4.947,"e":-3.56},{"s":"w4","k":5.02,"e":-3.395},{"s":"w4","k":5.13,"e":-3.165},{"s":"w4","k":5.24,"e":-2.985},{"s":"w4","k":5.35,"e":-2.865},{"s":"w4","k":5.5,"e":-2.79},{"s":"w4","k":5.689,"e":-2.763},
{"s":"w5","k":4.689,"e":-3.582},{"s":"w5","k":4.947,"e":-3.534},{"s":"w5","k":5.13,"e":-3.437},{"s":"w5","k":5.313,"e":-3.328},{"s":"w5","k":5.496,"e":-3.256},{"s":"w5","k":5.689,"e":-3.231},
{"s":"w6","k":4.689,"e":-3.587},{"s":"w6","k":4.947,"e":-3.54},{"s":"w6","k":5.13,"e":-3.445},{"s":"w6","k":5.313,"e":-3.335},{"s":"w6","k":5.496,"e":-3.262},{"s":"w6","k":5.689,"e":-3.235},
{"s":"w7","k":4.689,"e":-4.309},{"s":"w7","k":4.764,"e":-4.139},{"s":"w7","k":4.855,"e":-3.897},{"s":"w7","k":4.947,"e":-3.728},{"s":"w7","k":5.038,"e":-3.655},{"s":"w7","k":5.13,"e":-3.636},{"s":"w7","k":5.313,"e":-3.704},{"s":"w7","k":5.496,"e":-3.825},{"s":"w7","k":5.642,"e":-3.921},{"s":"w7","k":5.689,"e":-3.921},
{"s":"w8","k":4.689,"e":-4.313},{"s":"w8","k":4.764,"e":-4.15},{"s":"w8","k":4.855,"e":-3.91},{"s":"w8","k":4.947,"e":-3.74},{"s":"w8","k":5.038,"e":-3.665},{"s":"w8","k":5.13,"e":-3.645},{"s":"w8","k":5.313,"e":-3.712},{"s":"w8","k":5.496,"e":-3.833},{"s":"w8","k":5.642,"e":-3.925},{"s":"w8","k":5.689,"e":-3.925},
{"s":"w9","k":4.689,"e":-4.369},{"s":"w9","k":4.947,"e":-4.357},{"s":"w9","k":5.221,"e":-4.285},{"s":"w9","k":5.496,"e":-4.212},{"s":"w9","k":5.689,"e":-4.164},
{"s":"w10","k":4.689,"e":-4.373},{"s":"w10","k":4.947,"e":-4.362},{"s":"w10","k":5.221,"e":-4.29},{"s":"w10","k":5.496,"e":-4.218},{"s":"w10","k":5.689,"e":-4.168},
{"s":"a1","k":5.689,"e":-0.997},{"s":"a1","k":5.76,"e":-1.02},{"s":"a1","k":5.826,"e":-1.06},{"s":"a1","k":6.009,"e":-1.21},{"s":"a1","k":6.192,"e":-1.331},{"s":"a1","k":6.375,"e":-1.428},{"s":"a1","k":6.559,"e":-1.48},{"s":"a1","k":6.833,"e":-1.51},{"s":"a1","k":7.103,"e":-1.489},
{"s":"a2","k":5.689,"e":-1.003},{"s":"a2","k":5.826,"e":-1.07},{"s":"a2","k":6.009,"e":-1.222},{"s":"a2","k":6.192,"e":-1.342},{"s":"a2","k":6.375,"e":-1.44},{"s":"a2","k":6.559,"e":-1.492},{"s":"a2","k":6.833,"e":-1.522},{"s":"a2","k":7.103,"e":-1.52},
{"s":"a3","k":5.689,"e":-1.29},{"s":"a3","k":5.76,"e":-1.3},{"s":"a3","k":5.83,"e":-1.33},{"s":"a3","k":5.882,"e":-1.355},{"s":"a3","k":5.973,"e":-1.452},{"s":"a3","k":6.065,"e":-1.621},{"s":"a3","k":6.138,"e":-1.791},{"s":"a3","k":6.211,"e":-1.936},{"s":"a3","k":6.303,"e":-2.081},{"s":"a3","k":6.394,"e":-2.19},{"s":"a3","k":6.486,"e":-2.275},{"s":"a3","k":6.577,"e":-2.33},{"s":"a3","k":6.687,"e":-2.4},{"s":"a3","k":6.833,"e":-2.469},{"s":"a3","k":6.978,"e":-2.517},{"s":"a3","k":7.103,"e":-2.529},
{"s":"a4","k":5.689,"e":-1.295},{"s":"a4","k":5.76,"e":-1.306},{"s":"a4","k":5.83,"e":-1.337},{"s":"a4","k":5.882,"e":-1.363},{"s":"a4","k":5.973,"e":-1.46},{"s":"a4","k":6.065,"e":-1.629},{"s":"a4","k":6.138,"e":-1.799},{"s":"a4","k":6.211,"e":-1.944},{"s":"a4","k":6.303,"e":-2.089},{"s":"a4","k":6.394,"e":-2.198},{"s":"a4","k":6.486,"e":-2.283},{"s":"a4","k":6.577,"e":-2.338},{"s":"a4","k":6.687,"e":-2.407},{"s":"a4","k":6.833,"e":-2.475},{"s":"a4","k":6.978,"e":-2.522},{"s":"a4","k":7.103,"e":-2.533},
{"s":"a5","k":5.689,"e":-1.549},{"s":"a5","k":5.882,"e":-1.553},{"s":"a5","k":6.028,"e":-1.585},{"s":"a5","k":6.211,"e":-1.616},{"s":"a5","k":6.339,"e":-1.597},{"s":"a5","k":6.486,"e":-1.56},{"s":"a5","k":6.65,"e":-1.541},{"s":"a5","k":6.795,"e":-1.549},{"s":"a5","k":6.942,"e":-1.575},{"s":"a5","k":7.103,"e":-1.573},
{"s":"a6","k":5.689,"e":-1.552},{"s":"a6","k":5.79,"e":-1.568},{"s":"a6","k":5.92,"e":-1.64},{"s":"a6","k":6.065,"e":-1.67},{"s":"a6","k":6.248,"e":-1.658},{"s":"a6","k":6.431,"e":-1.706},{"s":"a6","k":6.614,"e":-1.779},{"s":"a6","k":6.722,"e":-1.827},{"s":"a6","k":6.832,"e":-1.851},{"s":"a6","k":6.978,"e":-1.871},{"s":"a6","k":7.103,"e":-1.876},
{"s":"a7","k":5.689,"e":-1.859},{"s":"a7","k":5.882,"e":-1.876},{"s":"a7","k":6.065,"e":-1.88},{"s":"a7","k":6.248,"e":-1.86},{"s":"a7","k":6.431,"e":-1.864},{"s":"a7","k":6.577,"e":-1.876},{"s":"a7","k":6.703,"e":-1.885},{"s":"a7","k":6.886,"e":-1.91},{"s":"a7","k":7.103,"e":-1.937},
{"s":"a8","k":5.689,"e":-1.862},{"s":"a8","k":5.79,"e":-1.9},{"s":"a8","k":5.93,"e":-1.98},{"s":"a8","k":6.065,"e":-1.96},{"s":"a8","k":6.156,"e":-1.936},{"s":"a8","k":6.339,"e":-1.95},{"s":"a8","k":6.522,"e":-1.965},{"s":"a8","k":6.614,"e":-1.98},{"s":"a8","k":6.685,"e":-1.95},{"s":"a8","k":6.795,"e":-1.84},{"s":"a8","k":6.886,"e":-1.75},{"s":"a8","k":6.978,"e":-1.69},{"s":"a8","k":7.04,"e":-1.7},{"s":"a8","k":7.103,"e":-1.742},
{"s":"a9","k":5.689,"e":-2.191},{"s":"a9","k":5.79,"e":-2.13},{"s":"a9","k":5.93,"e":-2.045},{"s":"a9","k":6.05,"e":-2.07},{"s":"a9","k":6.2,"e":-2.15},{"s":"a9","k":6.35,"e":-2.2},{"s":"a9","k":6.5,"e":-2.2},{"s":"a9","k":6.65,"e":-2.15},{"s":"a9","k":6.8,"e":-2.08},{"s":"a9","k":6.95,"e":-2.03},{"s":"a9","k":7.103,"e":-2.009},
{"s":"a10","k":5.689,"e":-2.195},{"s":"a10","k":5.82,"e":-2.1},{"s":"a10","k":5.944,"e":-2.04},{"s":"a10","k":6.04,"e":-2.06},{"s":"a10","k":6.18,"e":-2.11},{"s":"a10","k":6.347,"e":-2.1},{"s":"a10","k":6.475,"e":-2.03},{"s":"a10","k":6.6,"e":-1.95},{"s":"a10","k":6.73,"e":-1.85},{"s":"a10","k":6.84,"e":-1.73},{"s":"a10","k":6.95,"e":-1.63},{"s":"a10","k":7.103,"e":-1.578},
{"s":"a11","k":5.689,"e":-2.275},{"s":"a11","k":5.88,"e":-2.32},{"s":"a11","k":6.07,"e":-2.43},{"s":"a11","k":6.2,"e":-2.5},{"s":"a11","k":6.35,"e":-2.52},{"s":"a11","k":6.5,"e":-2.5},{"s":"a11","k":6.6,"e":-2.44},{"s":"a11","k":6.7,"e":-2.35},{"s":"a11","k":6.8,"e":-2.25},{"s":"a11","k":6.9,"e":-2.16},{"s":"a11","k":7.0,"e":-2.11},{"s":"a11","k":7.103,"e":-2.087},
{"s":"a12","k":5.689,"e":-2.372},{"s":"a12","k":5.88,"e":-2.45},{"s":"a12","k":6.04,"e":-2.59},{"s":"a12","k":6.15,"e":-2.69},{"s":"a12","k":6.23,"e":-2.76},{"s":"a12","k":6.28,"e":-2.77},{"s":"a12","k":6.37,"e":-2.72},{"s":"a12","k":6.48,"e":-2.59},{"s":"a12","k":6.58,"e":-2.47},{"s":"a12","k":6.66,"e":-2.37},{"s":"a12","k":6.73,"e":-2.27},{"s":"a12","k":6.84,"e":-2.15},{"s":"a12","k":6.95,"e":-2.06},{"s":"a12","k":7.103,"e":-2.004},
{"s":"a13","k":5.689,"e":-2.279},{"s":"a13","k":5.88,"e":-2.31},{"s":"a13","k":6.07,"e":-2.42},{"s":"a13","k":6.17,"e":-2.59},{"s":"a13","k":6.265,"e":-2.75},{"s":"a13","k":6.339,"e":-2.953},{"s":"a13","k":6.43,"e":-3.22},{"s":"a13","k":6.504,"e":-3.413},{"s":"a13","k":6.614,"e":-3.704},{"s":"a13","k":6.705,"e":-3.873},{"s":"a13","k":6.778,"e":-4.043},{"s":"a13","k":6.852,"e":-4.236},{"s":"a13","k":6.925,"e":-4.333},{"s":"a13","k":7.035,"e":-4.381},{"s":"a13","k":7.103,"e":-4.381},
{"s":"a14","k":5.689,"e":-2.376},{"s":"a14","k":5.88,"e":-2.42},{"s":"a14","k":6.07,"e":-2.54},{"s":"a14","k":6.22,"e":-2.72},{"s":"a14","k":6.28,"e":-2.82},{"s":"a14","k":6.35,"e":-2.99},{"s":"a14","k":6.448,"e":-3.316},{"s":"a14","k":6.504,"e":-3.437},{"s":"a14","k":6.59,"e":-3.65},{"s":"a14","k":6.632,"e":-3.74},{"s":"a14","k":6.742,"e":-3.85},{"s":"a14","k":6.85,"e":-3.92},{"s":"a14","k":7.103,"e":-3.938},
{"s":"a15","k":5.689,"e":-2.759},{"s":"a15","k":5.881,"e":-2.808},{"s":"a15","k":6.101,"e":-2.977},{"s":"a15","k":6.32,"e":-3.183},{"s":"a15","k":6.467,"e":-3.365},{"s":"a15","k":6.632,"e":-3.444},{"s":"a15","k":6.742,"e":-3.4},{"s":"a15","k":6.888,"e":-3.292},{"s":"a15","k":7.035,"e":-3.34},{"s":"a15","k":7.103,"e":-3.352},
{"s":"a16","k":5.689,"e":-2.763},{"s":"a16","k":5.85,"e":-2.73},{"s":"a16","k":6.05,"e":-2.7},{"s":"a16","k":6.15,"e":-2.74},{"s":"a16","k":6.247,"e":-2.86},{"s":"a16","k":6.339,"e":-2.965},{"s":"a16","k":6.485,"e":-3.062},{"s":"a16","k":6.632,"e":-3.11},{"s":"a16","k":6.742,"e":-3.118},{"s":"a16","k":6.925,"e":-3.074},{"s":"a16","k":7.103,"e":-3.05},
{"s":"a17","k":5.689,"e":-2.28},{"s":"a17","k":5.88,"e":-2.33},{"s":"a17","k":6.0,"e":-2.4},{"s":"a17","k":6.1,"e":-2.52},{"s":"a17","k":6.18,"e":-2.65},{"s":"a17","k":6.23,"e":-2.735},{"s":"a17","k":6.265,"e":-2.808},{"s":"a17","k":6.339,"e":-2.953},{"s":"a17","k":6.412,"e":-3.098},{"s":"a17","k":6.485,"e":-3.166},{"s":"a17","k":6.668,"e":-3.171},{"s":"a17","k":6.852,"e":-3.202},{"s":"a17","k":7.035,"e":-3.159},{"s":"a17","k":7.103,"e":-3.147},
{"s":"a18","k":5.689,"e":-3.231},{"s":"a18","k":6.265,"e":-3.231},{"s":"a18","k":6.339,"e":-3.256},{"s":"a18","k":6.448,"e":-3.34},{"s":"a18","k":6.559,"e":-3.461},{"s":"a18","k":6.668,"e":-3.461},{"s":"a18","k":6.778,"e":-3.51},{"s":"a18","k":6.925,"e":-3.558},{"s":"a18","k":7.103,"e":-3.582},
{"s":"a19","k":5.689,"e":-3.235},{"s":"a19","k":5.826,"e":-3.292},{"s":"a19","k":6.009,"e":-3.437},{"s":"a19","k":6.192,"e":-3.546},{"s":"a19","k":6.375,"e":-3.522},{"s":"a19","k":6.485,"e":-3.505},{"s":"a19","k":6.54,"e":-3.558},{"s":"a19","k":6.632,"e":-3.728},{"s":"a19","k":6.742,"e":-3.728},{"s":"a19","k":6.925,"e":-3.704},{"s":"a19","k":7.103,"e":-3.716},
{"s":"a20","k":5.689,"e":-3.921},{"s":"a20","k":5.918,"e":-3.752},{"s":"a20","k":6.101,"e":-3.662},{"s":"a20","k":6.229,"e":-3.704},{"s":"a20","k":6.43,"e":-3.849},{"s":"a20","k":6.522,"e":-3.837},{"s":"a20","k":6.614,"e":-3.788},{"s":"a20","k":6.668,"e":-3.897},{"s":"a20","k":6.742,"e":-4.067},{"s":"a20","k":6.815,"e":-4.127},{"s":"a20","k":6.925,"e":-4.067},{"s":"a20","k":7.035,"e":-4.03},{"s":"a20","k":7.103,"e":-4.023},
{"s":"a21","k":5.689,"e":-3.925},{"s":"a21","k":5.826,"e":-3.97},{"s":"a21","k":6.009,"e":-3.958},{"s":"a21","k":6.156,"e":-3.994},{"s":"a21","k":6.284,"e":-4.139},{"s":"a21","k":6.43,"e":-4.309},{"s":"a21","k":6.595,"e":-4.357},{"s":"a21","k":6.742,"e":-4.43},{"s":"a21","k":6.925,"e":-4.478},{"s":"a21","k":7.103,"e":-4.498},
{"s":"a22","k":5.689,"e":-4.164},{"s":"a22","k":5.918,"e":-4.139},{"s":"a22","k":6.192,"e":-4.079},{"s":"a22","k":6.43,"e":-4.043},{"s":"a22","k":6.559,"e":-4.055},{"s":"a22","k":6.668,"e":-4.188},{"s":"a22","k":6.778,"e":-4.333},{"s":"a22","k":6.925,"e":-4.357},{"s":"a22","k":7.103,"e":-4.345},
{"s":"a23","k":5.689,"e":-4.168},{"s":"a23","k":5.826,"e":-4.236},{"s":"a23","k":6.009,"e":-4.381},{"s":"a23","k":6.192,"e":-4.406},{"s":"a23","k":6.32,"e":-4.345},{"s":"a23","k":6.467,"e":-4.255},{"s":"a23","k":6.614,"e":-4.309},{"s":"a23","k":6.742,"e":-4.406},{"s":"a23","k":6.925,"e":-4.478},{"s":"a23","k":7.103,"e":-4.522},
{"s":"a24","k":6.74,"e":-5.05},{"s":"a24","k":6.76,"e":-4.999},{"s":"a24","k":6.833,"e":-4.817},{"s":"a24","k":6.925,"e":-4.624},{"s":"a24","k":7.035,"e":-4.527},{"s":"a24","k":7.103,"e":-4.515},
{"s":"a25","k":6.76,"e":-5.05},{"s":"a25","k":6.778,"e":-4.999},{"s":"a25","k":6.87,"e":-4.793},{"s":"a25","k":6.962,"e":-4.672},{"s":"a25","k":7.103,"e":-4.636},
{"s":"x1","k":7.103,"e":-1.634},{"s":"x1","k":7.378,"e":-1.651},
{"s":"x2","k":7.103,"e":-1.864},{"s":"x2","k":7.378,"e":-1.864},
{"s":"x3","k":7.103,"e":-2.106},{"s":"x3","k":7.378,"e":-2.11},
{"s":"x4","k":7.103,"e":-2.293},{"s":"x4","k":7.24,"e":-2.3},{"s":"x4","k":7.378,"e":-2.317},
{"s":"x5","k":7.103,"e":-2.348},{"s":"x5","k":7.378,"e":-2.348},
{"s":"x6","k":7.103,"e":-2.578},{"s":"x6","k":7.378,"e":-2.566},
{"s":"x7","k":7.103,"e":-3.135},{"s":"x7","k":7.22,"e":-3.11},{"s":"x7","k":7.3,"e":-3.06},{"s":"x7","k":7.378,"e":-3.001},
{"s":"x8","k":7.103,"e":-3.57},{"s":"x8","k":7.378,"e":-3.587},
{"s":"x9","k":7.103,"e":-3.643},{"s":"x9","k":7.22,"e":-3.655},{"s":"x9","k":7.378,"e":-3.728},
{"s":"x10","k":7.103,"e":-4.316},{"s":"x10","k":7.378,"e":-4.316},
{"s":"x11","k":7.103,"e":-4.376},{"s":"x11","k":7.378,"e":-4.376},
{"s":"y1","k":7.378,"e":-0.997},{"s":"y1","k":7.653,"e":-0.997},
{"s":"y2","k":7.378,"e":-1.29},{"s":"y2","k":7.653,"e":-1.29},
{"s":"y3","k":7.378,"e":-1.545},{"s":"y3","k":7.653,"e":-1.545},
{"s":"y4","k":7.378,"e":-1.859},{"s":"y4","k":7.653,"e":-1.859},
{"s":"y5","k":7.378,"e":-2.094},{"s":"y5","k":7.47,"e":-2.106},{"s":"y5","k":7.56,"e":-2.155},{"s":"y5","k":7.653,"e":-2.208},
{"s":"y6","k":7.378,"e":-2.271},{"s":"y6","k":7.653,"e":-2.271},
{"s":"y7","k":7.378,"e":-2.367},{"s":"y7","k":7.653,"e":-2.367},
{"s":"y8","k":7.378,"e":-2.965},{"s":"y8","k":7.47,"e":-2.94},{"s":"y8","k":7.56,"e":-2.856},{"s":"y8","k":7.653,"e":-2.759},
{"s":"y9","k":7.378,"e":-3.231},{"s":"y9","k":7.653,"e":-3.231},
{"s":"y10","k":7.378,"e":-3.837},{"s":"y10","k":7.47,"e":-3.849},{"s":"y10","k":7.653,"e":-3.921},
{"s":"y11","k":7.378,"e":-4.164},{"s":"y11","k":7.653,"e":-4.164},
{"s":"c1","k":0,"e":1.114},{"s":"c1","k":0.066,"e":1.15},{"s":"c1","k":0.148,"e":1.296},{"s":"c1","k":0.231,"e":1.513},{"s":"c1","k":0.313,"e":1.804},{"s":"c1","k":0.368,"e":2.0},{"s":"c1","k":0.4,"e":2.1},
{"s":"c2","k":0,"e":1.441},{"s":"c2","k":0.093,"e":1.477},{"s":"c2","k":0.203,"e":1.622},{"s":"c2","k":0.286,"e":1.84},{"s":"c2","k":0.324,"e":2.0},{"s":"c2","k":0.34,"e":2.1},
{"s":"c3","k":2.98,"e":2.1},{"s":"c3","k":3.016,"e":2.0},{"s":"c3","k":3.17,"e":1.55},{"s":"c3","k":3.28,"e":1.223},{"s":"c3","k":3.35,"e":1.13},{"s":"c3","k":3.414,"e":1.114},
{"s":"c4","k":3.03,"e":2.1},{"s":"c4","k":3.06,"e":2.0},{"s":"c4","k":3.225,"e":1.622},{"s":"c4","k":3.335,"e":1.455},{"s":"c4","k":3.414,"e":1.441},
{"s":"c5","k":3.414,"e":1.114},{"s":"c5","k":3.5,"e":1.15},{"s":"c5","k":3.61,"e":1.259},{"s":"c5","k":3.689,"e":1.317},
{"s":"c6","k":3.414,"e":1.441},{"s":"c6","k":3.5,"e":1.434},{"s":"c6","k":3.61,"e":1.368},{"s":"c6","k":3.689,"e":1.332},
{"s":"c7","k":3.689,"e":1.332},{"s":"c7","k":3.775,"e":1.405},{"s":"c7","k":3.885,"e":1.586},{"s":"c7","k":3.967,"e":1.804},{"s":"c7","k":4.038,"e":2.0},{"s":"c7","k":4.06,"e":2.1},
{"s":"c8","k":3.689,"e":1.317},{"s":"c8","k":3.802,"e":1.441},{"s":"c8","k":3.912,"e":1.622},{"s":"c8","k":4.011,"e":1.913},{"s":"c8","k":4.049,"e":2.0},{"s":"c8","k":4.07,"e":2.1},
{"s":"c9","k":6.69,"e":2.1},{"s":"c9","k":6.714,"e":2.0},{"s":"c9","k":6.797,"e":1.804},{"s":"c9","k":6.907,"e":1.55},{"s":"c9","k":7.016,"e":1.368},{"s":"c9","k":7.103,"e":1.317},
{"s":"c10","k":6.72,"e":2.1},{"s":"c10","k":6.742,"e":2.0},{"s":"c10","k":6.824,"e":1.804},{"s":"c10","k":6.934,"e":1.513},{"s":"c10","k":7.071,"e":1.346},{"s":"c10","k":7.103,"e":1.288}
]},
"layer":[
{"data":{"name":"bands"},
 "mark":{"type":"line","interpolate":"monotone","clip":true,"color":"black","strokeWidth":1.3},
 "encoding":{
  "x":{"field":"k","type":"quantitative","scale":{"domain":[0,7.653],"nice":false,"zero":false},
   "axis":{"orient":"bottom","title":null,"values":[0,1,2,3.414,3.689,4.689,5.689,7.103,7.378,7.653],
    "labelExpr":"datum.value < 0.5 ? 'Γ' : datum.value < 1.5 ? 'X' : datum.value < 2.5 ? 'M' : datum.value < 3.55 ? 'Γ' : datum.value < 4.2 ? 'Z' : datum.value < 5.2 ? 'R' : datum.value < 6.4 ? 'A' : datum.value < 7.2 ? 'Z\u2002\u2006X' : datum.value < 7.5 ? 'R\u2002\u2006M' : 'A'",
    "grid":true,"gridDash":[4,4],"gridColor":"#a0a0a0","gridWidth":1,"domain":false,
    "tickSize":-10,"tickColor":"black","tickWidth":1.2,
    "labelFont":"Liberation Sans","labelFontSize":20,"labelColor":"black","labelPadding":26,
    "labelFlush":false,"labelOverlap":false,"labelBound":false}},
  "y":{"field":"e","type":"quantitative","scale":{"domain":[-5,2],"nice":false,"zero":false},
   "axis":{"orient":"left","title":null,"values":[-5,-4,-3,-2,-1,0,1,2],"labelExpr":"datum.value + ''",
    "grid":false,"domain":false,"tickSize":-10,"tickColor":"black","tickWidth":1.2,
    "labelFont":"Liberation Sans","labelFontSize":20,"labelColor":"black","labelPadding":28,
    "labelFlush":false,"labelOverlap":false,"labelBound":false}},
  "detail":{"field":"s","type":"nominal"}}},
{"data":{"name":"jumps"},
 "mark":{"type":"rule","color":"black","strokeWidth":1.3},
 "encoding":{
  "x":{"field":"k","type":"quantitative","axis":{"orient":"top","title":null,"values":[0,1,2,3.414,3.689,4.689,5.689,7.103,7.378,7.653],"labels":false,"grid":false,"domain":false,"tickSize":-10,"tickColor":"black","tickWidth":1.2}},
  "y":{"field":"lo","type":"quantitative","axis":null},
  "y2":{"field":"hi"}}},
{"data":{"values":[{"e":0}]},
 "mark":{"type":"rule","color":"#3fa2e0","strokeWidth":1.5},
 "encoding":{
  "y":{"field":"e","type":"quantitative","axis":{"orient":"right","title":null,"values":[-5,-4,-3,-2,-1,0,1,2],"labels":false,"grid":false,"domain":false,"tickSize":-10,"tickColor":"black","tickWidth":1.2}}}}
]
}
